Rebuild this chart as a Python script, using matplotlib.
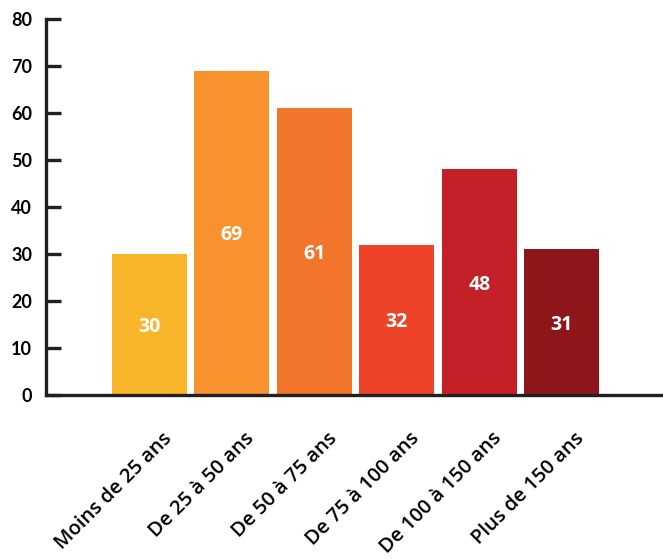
import numpy as np
import matplotlib
matplotlib.use('Agg')
import matplotlib.pyplot as plt

categories = ['Moins de 25 ans', 'De 25 à 50 ans', 'De 50 à 75 ans',
              'De 75 à 100 ans', 'De 100 à 150 ans', 'Plus de 150 ans']
values = [30, 69, 61, 32, 48, 31]
colors = ['#F9B62A', '#F7922F', '#F3752C', '#EF4329', '#C42027', '#8C161A']
yticks = [0, 10, 20, 30, 40, 50, 60, 70, 80]

W, H = 663, 559
fig = plt.figure(figsize=(W / 100, H / 100), dpi=100)
ax = fig.add_axes([46 / W, (H - 395) / H, (W - 46) / W, (395 - 19) / H])

x = np.arange(len(categories))
bars = ax.bar(x, values, width=0.91, color=colors, zorder=2)

for xi, v in zip(x, values):
    ax.text(xi, v / 2 - 0.5, str(v), ha='center', va='center', color='white',
            fontsize=14, fontweight='bold', family=['Open Sans', 'DejaVu Sans'])

ax.set_xlim(-1.256, 6.23)
ax.set_ylim(0, 80)
ax.set_yticks(yticks)
ax.set_yticklabels([str(t) for t in yticks], fontsize=13, fontweight='bold',
                   family=['Lato', 'DejaVu Sans'])
# labels sit a little right of the bar centres in the original
ax.set_xticks(x + 0.15)
ax.set_xticklabels(categories, rotation=45, ha='right', rotation_mode='anchor',
                   fontsize=14.5, fontweight='semibold', family=['Open Sans', 'DejaVu Sans'])

for s in ['top', 'right']:
    ax.spines[s].set_visible(False)
for s in ['left', 'bottom']:
    ax.spines[s].set_linewidth(2.4)
    ax.spines[s].set_color('#231f20')

ax.tick_params(axis='y', direction='in', length=11, width=2.4, color='#231f20', pad=10)
ax.tick_params(axis='x', length=0, pad=24)

fig.savefig('out.png', dpi=100)
